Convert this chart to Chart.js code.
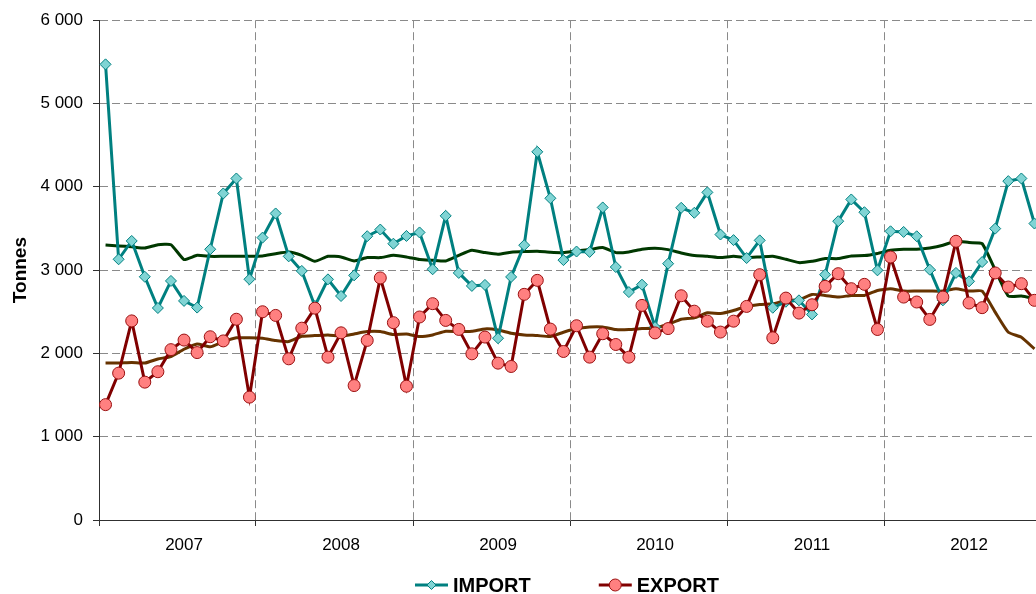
<!DOCTYPE html>
<html>
<head>
<meta charset="utf-8">
<title>IMPORT / EXPORT</title>
<script src="https://cdn.jsdelivr.net/npm/chart.js@4.4.1/dist/chart.umd.min.js"></script>
<style>
    html, body { margin: 0; padding: 0; overflow: hidden; background: #fff; }
    #contenedor { width: 1060px; height: 594px; }
</style>
</head>
<body>
<div id="contenedor"><canvas id="grafica" width="1060" height="594"></canvas></div>
<script>
// Datos mensuales 2007 - 2012 (tonnes)
const anos = ['2007', '2008', '2009', '2010', '2011', '2012'];

const importaciones = [
    5470, 3130, 3350, 2920, 2545, 2870, 2630, 2550, 3250, 3920, 4100, 2890,
    3390, 3680, 3165, 2990, 2570, 2889, 2689, 2937, 3407, 3487, 3317, 3410,
    3452, 3010, 3651, 2966, 2810, 2822, 2182, 2918, 3299, 4420, 3862, 3120,
    3223, 3218, 3752, 3037, 2736, 2825, 2316, 3077, 3748, 3688, 3933, 3427,
    3360, 3145, 3357, 2548, 2620, 2637, 2468, 2945, 3587, 3848, 3695, 2997,
    3466, 3458, 3406, 3005, 2637, 2966, 2865, 3097, 3498, 4068, 4100, 3559
];

const exportaciones = [
    1385, 1763, 2390, 1655, 1780, 2045, 2160, 2010, 2200, 2150, 2410, 1475,
    2500, 2456, 1935, 2303, 2543, 1955, 2247, 1614, 2156, 2906, 2369, 1606,
    2437, 2597, 2396, 2288, 1995, 2196, 1883, 1843, 2709, 2877, 2292, 2023,
    2332, 1955, 2236, 2107, 1955, 2576, 2246, 2298, 2692, 2507, 2387, 2256,
    2387, 2564, 2945, 2187, 2664, 2484, 2584, 2805, 2957, 2777, 2829, 2287,
    3157, 2676, 2617, 2408, 2676, 3346, 2605, 2549, 2966, 2797, 2837, 2637
];

// Tendencias (medias moviles)
const tendenciaImport = [
    3300, 3290, 3280, 3265, 3305, 3305, 3127, 3177, 3165, 3165, 3165, 3165,
    3170, 3197, 3217, 3177, 3105, 3166, 3158, 3110, 3150, 3150, 3177, 3158,
    3126, 3118, 3110, 3178, 3238, 3210, 3190, 3214, 3222, 3226, 3214, 3210,
    3232, 3246, 3270, 3210, 3218, 3250, 3262, 3246, 3206, 3174, 3166, 3150,
    3166, 3150, 3158, 3166, 3130, 3090, 3106, 3138, 3138, 3170, 3174, 3200,
    3238, 3250, 3250, 3266, 3298, 3350, 3330, 3318, 3000, 2689, 2689, 2657
];

const tendenciaExport = [
    1884, 1884, 1892, 1884, 1933, 1963, 2050, 2112, 2079, 2141, 2187, 2187,
    2182, 2154, 2142, 2206, 2214, 2222, 2206, 2234, 2262, 2262, 2226, 2234,
    2202, 2222, 2266, 2262, 2266, 2294, 2282, 2242, 2222, 2214, 2202, 2254,
    2298, 2318, 2318, 2286, 2286, 2298, 2306, 2350, 2410, 2426, 2487, 2479,
    2515, 2564, 2588, 2596, 2636, 2644, 2708, 2696, 2676, 2696, 2696, 2756,
    2776, 2748, 2748, 2748, 2748, 2776, 2748, 2748, 2495, 2254, 2194, 2054
];

const valoresY = [0, 1000, 2000, 3000, 4000, 5000, 6000];

// Etiquetas de meses (una por punto)
const meses = [];
anos.forEach(a => {
    for (let m = 1; m <= 12; m++) meses.push(a + '-' + String(m).padStart(2, '0'));
});

const fuente = '"Liberation Sans", Arial, sans-serif';
const colorEje = '#303030';
const colorRejilla = '#8a8a8a';

function formatearMiles(v) {
    return String(v).replace(/\B(?=(\d{3})+(?!\d))/g, ' ');
}

// Leyenda propia: linea + marcador + texto en negrita
const pluginLeyenda = {
    id: 'leyendaPropia',
    afterDraw(chart) {
        const { ctx, chartArea } = chart;
        const items = chart.data.datasets.filter(d => d.enLeyenda);
        const simbolo = 33, hueco = 5, separacion = 68;
        ctx.save();
        ctx.font = 'bold 20px ' + fuente;
        let total = 0;
        items.forEach((d, i) => {
            total += simbolo + hueco + ctx.measureText(d.label).width + (i ? separacion : 0);
        });
        let x = (chartArea.left + chartArea.right) / 2 - 3 - total / 2;
        const y = 585;
        items.forEach(d => {
            ctx.strokeStyle = d.borderColor;
            ctx.lineWidth = 3;
            ctx.beginPath();
            ctx.moveTo(x, y);
            ctx.lineTo(x + simbolo, y);
            ctx.stroke();
            ctx.fillStyle = d.pointBackgroundColor;
            ctx.strokeStyle = d.pointBorderColor;
            ctx.lineWidth = 1;
            Chart.helpers.drawPoint(ctx, {
                pointStyle: d.pointStyle,
                radius: d.radioLeyenda,
                borderWidth: 1,
                rotation: 0
            }, x + simbolo / 2, y);
            ctx.fillStyle = '#000';
            ctx.textAlign = 'left';
            ctx.textBaseline = 'middle';
            ctx.fillText(d.label, x + simbolo + hueco, y + 1);
            x += simbolo + hueco + ctx.measureText(d.label).width + separacion;
        });
        ctx.restore();
    }
};

const grafica = new Chart(document.getElementById('grafica'), {
    type: 'line',
    data: {
        labels: meses,
        datasets: [
            {
                label: 'IMPORT',
                data: importaciones,
                enLeyenda: true,
                order: 1,
                borderColor: '#008080',
                borderWidth: 3,
                pointStyle: 'rectRot',
                pointRadius: 5.5,
                radioLeyenda: 4.5,
                pointBackgroundColor: '#80d4d4',
                pointBorderColor: '#008080',
                pointBorderWidth: 1,
                tension: 0
            },
            {
                label: 'EXPORT',
                data: exportaciones,
                enLeyenda: true,
                order: 0,
                borderColor: '#800000',
                borderWidth: 3,
                pointStyle: 'circle',
                pointRadius: 6,
                radioLeyenda: 6,
                pointBackgroundColor: '#ff8080',
                pointBorderColor: '#9a1010',
                pointBorderWidth: 1,
                tension: 0
            },
            {
                label: 'Tendance IMPORT',
                data: tendenciaImport,
                order: 2,
                borderColor: '#003800',
                borderWidth: 3,
                pointRadius: 0,
                tension: 0.15
            },
            {
                label: 'Tendance EXPORT',
                data: tendenciaExport,
                order: 3,
                borderColor: '#663300',
                borderWidth: 3,
                pointRadius: 0,
                tension: 0.15
            }
        ]
    },
    options: {
        responsive: false,
        animation: false,
        devicePixelRatio: 1,
        layout: { padding: { top: 20, right: 19, bottom: 0, left: 0 } },
        plugins: {
            legend: { display: false },
            tooltip: { enabled: false }
        },
        scales: {
            x: {
                offset: true,
                ticks: {
                    autoSkip: false,
                    maxRotation: 0,
                    minRotation: 0,
                    padding: 9,
                    color: '#000',
                    font: { family: fuente, size: 17 },
                    callback: (v, i) => (i % 12 === 6 ? anos[Math.floor(i / 12)] : '')
                },
                grid: {
                    offset: true,
                    lineWidth: 1,
                    color: c => (c.index % 12 === 0 && c.index > 0 ? colorRejilla : 'transparent'),
                    tickColor: c => (c.index % 12 === 0 ? colorEje : 'transparent'),
                    tickLength: 6,
                    tickBorderDash: []
                },
                border: { color: colorEje, width: 1, dash: [8, 4] },
                afterFit: s => { s.height = 74; }
            },
            y: {
                min: valoresY[0],
                max: valoresY[valoresY.length - 1],
                afterBuildTicks: s => { s.ticks = valoresY.map(v => ({ value: v })); },
                ticks: {
                    padding: 10,
                    color: '#000',
                    font: { family: fuente, size: 17 },
                    callback: v => formatearMiles(v)
                },
                grid: {
                    lineWidth: 1,
                    color: c => (c.tick && c.tick.value === 0 ? 'transparent' : colorRejilla),
                    tickColor: colorEje,
                    tickLength: 6,
                    tickBorderDash: []
                },
                border: { color: colorEje, width: 1, dash: [8, 4] },
                title: {
                    display: true,
                    text: 'Tonnes',
                    color: '#000',
                    font: { family: fuente, size: 19, weight: 'bold' },
                    padding: { top: 9, bottom: 0 }
                },
                afterFit: s => { s.width = 99; }
            }
        }
    },
    plugins: [pluginLeyenda]
});
</script>
</body>
</html>
